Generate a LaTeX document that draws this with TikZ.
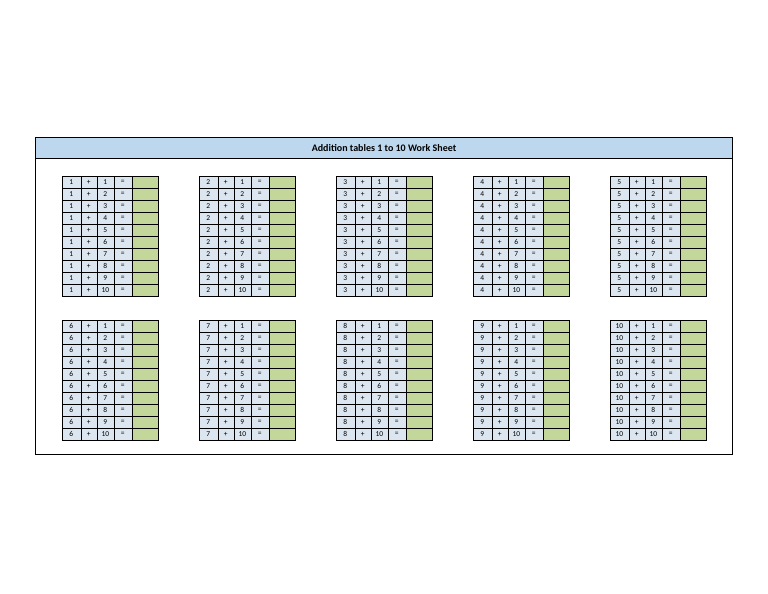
\documentclass[tikz,border=0pt]{standalone}
\usepackage{fontspec}
\setmainfont{Carlito}
\usetikzlibrary{positioning}
\definecolor{cellblue}{HTML}{DCE6F1}
\definecolor{cellgreen}{HTML}{C4D79B}
\definecolor{headblue}{HTML}{BDD7EE}
\newcommand\W{137}
\begin{document}
\begin{tikzpicture}[x=1pt,y=-1pt,
  cell/.style={draw,fill=cellblue,inner sep=0pt,outer sep=0pt,minimum height=12pt,font=\fontsize{7.5}{8}\selectfont},
  answer/.style={cell,fill=cellgreen,minimum width=26.5pt}]

  \useasboundingbox (0,0) rectangle (768,594);
  \tikzstyle{frame}=[draw,line width=1pt]

  \node[frame,fill=headblue,minimum width=697pt,minimum height=21pt,anchor=north west,
        font=\bfseries\fontsize{10}{12}\selectfont] (head) at (35,137) {Addition tables 1 to 10 Work Sheet};
  \node[frame,minimum width=697pt,minimum height=317pt,anchor=north west] (sheet) at (35,137) {};

  \foreach \t in {1,...,10}{
    \pgfmathsetmacro\tx{62+mod(\t-1,5)*\W}
    \pgfmathsetmacro\ty{176+int((\t-1)/5)*144}
    \foreach \k in {1,...,10}{
      \pgfmathsetmacro\cy{\ty+(\k-1)*12}
      \node[cell,minimum width=18.7pt,anchor=north west] (a\t-\k) at (\tx,\cy) {\t};
      \node[cell,minimum width=16pt,right=0pt of a\t-\k] (p\t-\k) {+};
      \node[cell,minimum width=17.3pt,right=0pt of p\t-\k] (b\t-\k) {\k};
      \node[cell,minimum width=17.7pt,right=0pt of b\t-\k] (e\t-\k) {=};
      \node[answer,right=0pt of e\t-\k] (r\t-\k) {};
    }
    \draw[line width=1pt] (a\t-1.north west) rectangle (r\t-10.south east);
  }
\end{tikzpicture}
\end{document}
